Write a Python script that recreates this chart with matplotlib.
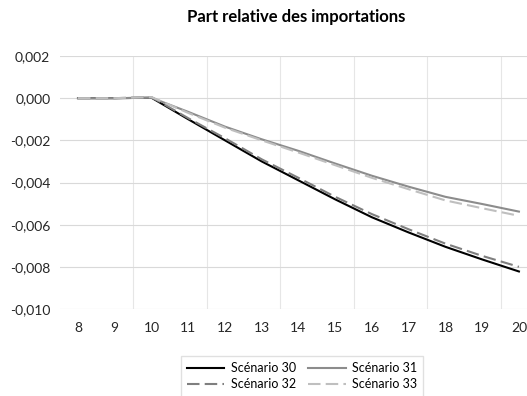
import matplotlib
matplotlib.use("Agg")
import matplotlib.pyplot as plt
from matplotlib.ticker import FuncFormatter, FixedLocator

plt.rcParams['font.family'] = ['Lato', 'DejaVu Sans']

annees = [8, 9, 10, 11, 12, 13, 14, 15, 16, 17, 18, 19, 20]
scen30 = [0.0, 0.0, 0.00002, -0.00100, -0.00200, -0.00300, -0.00390, -0.00480, -0.00565, -0.00637, -0.00705, -0.00765, -0.00822]
scen31 = [0.0, 0.0, 0.00002, -0.00065, -0.00135, -0.00195, -0.00250, -0.00310, -0.00368, -0.00420, -0.00468, -0.00502, -0.00538]
scen32 = [0.0, 0.0, 0.00005, -0.00095, -0.00190, -0.00290, -0.00378, -0.00468, -0.00550, -0.00622, -0.00690, -0.00748, -0.00800]
scen33 = [0.0, 0.0, 0.00005, -0.00070, -0.00140, -0.00200, -0.00258, -0.00318, -0.00378, -0.00432, -0.00485, -0.00522, -0.00558]

fig = plt.figure(figsize=(5.27, 3.96), dpi=100)
ax = fig.add_axes([60 / 527, 87 / 396, 467 / 527, 253 / 396])

l30, = ax.plot(annees, scen30, color='black', lw=1.5, label='Scénario 30')
l31, = ax.plot(annees, scen31, color='#8c8c8c', lw=1.5, label='Scénario 31')
l32, = ax.plot(annees, scen32, color='#7f7f7f', lw=1.5, ls=(0, (6, 2.5)), label='Scénario 32')
l33, = ax.plot(annees, scen33, color='#bfbfbf', lw=1.5, ls=(0, (6, 2.5)), label='Scénario 33')

ax.set_xlim(7.51, 20.22)
ax.set_ylim(-0.010, 0.002)
ax.set_xticks(annees)
ax.set_yticks([0.002, 0.0, -0.002, -0.004, -0.006, -0.008, -0.010])
ax.yaxis.set_major_formatter(FuncFormatter(lambda v, p: f"{v:.3f}".replace('.', ',').replace('-0,000', '0,000')))
ax.xaxis.set_minor_locator(FixedLocator([9.5, 11.5, 13.5, 15.5, 17.5, 19.5]))

ax.grid(True, which='major', axis='y', color='#d9d9d9', lw=0.8)
ax.grid(True, which='minor', axis='x', color='#e6e6e6', lw=0.8)
ax.set_axisbelow(True)
ax.tick_params(axis='both', which='both', length=0, labelsize=10, colors='#262626')
ax.tick_params(axis='y', pad=7)
ax.tick_params(axis='x', pad=9)
for s in ax.spines.values():
    s.set_visible(False)

fig.suptitle('Part relative des importations', x=296 / 527, y=1 - 9 / 396, fontsize=12, fontweight='bold', va='top')

# ordre ligne par ligne comme dans Excel
fig.legend([l30, l32, l31, l33], ['Scénario 30', 'Scénario 32', 'Scénario 31', 'Scénario 33'],
           loc='upper center', bbox_to_anchor=(302 / 527, 1 - 350 / 396), ncol=2, fontsize=9,
           frameon=True, fancybox=False, edgecolor='#d9d9d9', handlelength=3.0,
           columnspacing=1.0, labelspacing=0.3, borderpad=0.5, handletextpad=0.5)

fig.savefig('out.png', dpi=100)
